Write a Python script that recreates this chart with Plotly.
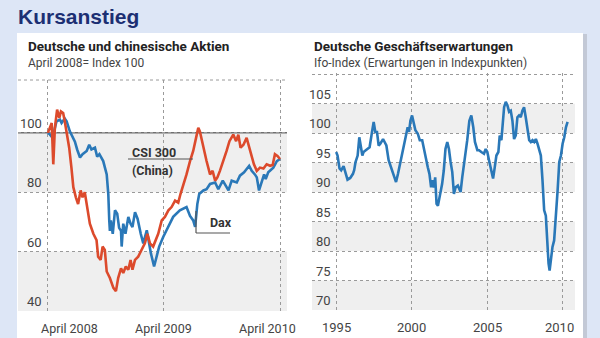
import plotly.graph_objects as go

# ---------------- data ----------------
dax_dates = ["2008-04-01","2008-04-07","2008-04-16","2008-04-28","2008-05-09","2008-05-14","2008-05-24","2008-05-30",
             "2008-06-09","2008-06-25","2008-07-02","2008-07-11","2008-07-19","2008-08-01","2008-08-09","2008-08-16",
             "2008-08-27","2008-09-03","2008-09-10","2008-09-22","2008-10-03","2008-10-08","2008-10-11","2008-10-13",
             "2008-10-16","2008-10-22","2008-10-29","2008-11-05","2008-11-11","2008-11-17","2008-11-19","2008-11-24",
             "2008-12-01","2008-12-10","2008-12-17","2008-12-23","2008-12-31","2009-01-08","2009-01-18","2009-01-26",
             "2009-02-06","2009-02-19","2009-03-01","2009-03-09","2009-03-17","2009-03-30","2009-04-15","2009-04-30",
             "2009-05-21","2009-06-11","2009-06-22","2009-07-02","2009-07-08","2009-07-15","2009-07-21","2009-08-03",
             "2009-08-13","2009-08-24","2009-09-09","2009-09-19","2009-10-03","2009-10-21","2009-10-31","2009-11-16",
             "2009-11-26","2009-12-09","2009-12-25","2010-01-02","2010-01-12","2010-01-18","2010-01-25","2010-02-02",
             "2010-02-10","2010-02-15","2010-02-23","2010-03-11","2010-03-22","2010-04-01"]
dax_values = [100, 99.5, 98.3, 103.9, 104.4, 103.3, 104.8, 103.9, 100.5, 97, 94.4, 91.7, 92.8, 93.9, 96, 94.4,
              95, 92, 92.8, 90.5, 86, 79.4, 70.5, 67, 70.5, 66, 73.9, 72.8, 68, 67, 61.7, 69.4,
              66, 71.7, 69.4, 68.3, 73.3, 71.1, 66, 62.8, 67.2, 59.4, 55, 58.3, 61.7, 65, 68.3, 71.7,
              73.9, 75, 72, 70.5, 68.3, 76, 79.4, 80.6, 81, 82.8, 83.3, 81, 83.9, 80.6, 83.9, 83.3,
              85.6, 86.7, 88.9, 87.2, 86, 85, 80.6, 83.3, 86, 84.4, 86.7, 88.3, 90.5, 91.2]

csi_dates = ["2008-04-01","2008-04-13","2008-04-18","2008-04-23","2008-04-30","2008-05-07","2008-05-12","2008-05-19",
             "2008-05-24","2008-05-30","2008-06-07","2008-06-14","2008-06-20","2008-06-28","2008-07-05","2008-07-13",
             "2008-07-19","2008-07-26","2008-08-01","2008-08-11","2008-08-22","2008-09-01","2008-09-06","2008-09-14",
             "2008-09-20","2008-09-27","2008-10-03","2008-10-13","2008-10-24","2008-11-01","2008-11-08","2008-11-17",
             "2008-11-24","2008-12-02","2008-12-10","2008-12-17","2008-12-23","2008-12-31","2009-01-10","2009-01-21",
             "2009-01-31","2009-02-08","2009-02-16","2009-02-26","2009-03-07","2009-03-14","2009-03-25","2009-04-04",
             "2009-04-15","2009-04-25","2009-05-06","2009-05-16","2009-05-23","2009-06-03","2009-06-11","2009-06-22",
             "2009-07-02","2009-07-11","2009-07-18","2009-07-23","2009-08-03","2009-08-13","2009-08-24","2009-09-01",
             "2009-09-09","2009-09-16","2009-09-24","2009-10-05","2009-10-15","2009-10-24","2009-10-31","2009-11-05",
             "2009-11-14","2009-11-21","2009-11-28","2009-12-07","2009-12-17","2009-12-26","2010-01-02","2010-01-09",
             "2010-01-18","2010-01-28","2010-02-08","2010-02-18","2010-03-01","2010-03-09","2010-03-16","2010-03-24",
             "2010-04-01"]
csi_values = [100, 103.3, 89.4, 101.7, 107.8, 105, 107.2, 106.7, 103.9, 100.5, 95, 88.3, 81.7, 78.3, 76, 80.6,
              78.3, 80, 76, 69.4, 66, 63.9, 58.3, 57.2, 61.7, 60.6, 53.3, 51.1, 47.8, 46.7, 51.1, 54.4,
              52.8, 55, 53.9, 57.2, 53.9, 57.2, 58.3, 60.6, 62.8, 66, 62.8, 61.7, 63.9, 66, 70.5, 71.7,
              73.9, 75, 77.2, 76.5, 79.4, 82.8, 86, 90.5, 93.9, 98.3, 101.7, 100.5, 95, 90.5, 86, 87.2,
              83.9, 85, 87.2, 90.5, 93.9, 97.2, 98.3, 99.4, 97.2, 99.4, 95, 96, 98.3, 95, 92.8, 89.4,
              87.2, 88.3, 88, 89.4, 88.9, 89.2, 92.8, 92.2, 91.2]

ifo_years = [1995.00, 1995.09, 1995.22, 1995.33, 1995.49, 1995.60, 1995.75, 1995.93, 1996.11, 1996.19, 1996.28,
             1996.42, 1996.53, 1996.64, 1996.73, 1996.81, 1996.99, 1997.21, 1997.37, 1997.48, 1997.59, 1997.70,
             1997.81, 1997.92, 1998.10, 1998.21, 1998.32, 1998.47, 1998.69, 1998.85, 1998.96, 1999.09, 1999.25,
             1999.42, 1999.58, 1999.73, 1999.82, 1999.91, 2000.02, 2000.13, 2000.24, 2000.40, 2000.53, 2000.69,
             2000.80, 2000.93, 2001.06, 2001.17, 2001.28, 2001.35, 2001.46, 2001.55, 2001.64, 2001.73, 2001.86,
             2002.01, 2002.12, 2002.23, 2002.35, 2002.46, 2002.57, 2002.68, 2002.79, 2002.90, 2003.05, 2003.23,
             2003.34, 2003.50, 2003.67, 2003.81, 2003.94, 2004.07, 2004.18, 2004.34, 2004.45, 2004.60, 2004.78,
             2004.89, 2005.00, 2005.11, 2005.22, 2005.38, 2005.49, 2005.60, 2005.73, 2005.82, 2005.93, 2006.02,
             2006.11, 2006.22, 2006.33, 2006.44, 2006.55, 2006.66, 2006.77, 2006.88, 2006.99, 2007.10, 2007.21,
             2007.32, 2007.43, 2007.54, 2007.65, 2007.77, 2007.88, 2007.99, 2008.10, 2008.21, 2008.32, 2008.43,
             2008.54, 2008.65, 2008.76, 2008.87, 2008.98, 2009.05, 2009.12, 2009.20, 2009.31, 2009.42, 2009.54,
             2009.65, 2009.76, 2009.87, 2009.98, 2010.09, 2010.20, 2010.31]
ifo_values = [96.8, 96.2, 94, 93.7, 94.4, 93.4, 92.1, 92.4, 93.1, 93.7, 95.1,
              96.2, 99.3, 97.6, 96.2, 96.8, 97.1, 97.6, 100.2, 101.9, 100.2, 100.2,
              97.9, 98.2, 99, 98.5, 97.9, 95.4, 93.7, 92.4, 91.7, 93.1, 95.1,
              97.1, 99.3, 101, 100.2, 102.1, 103, 101.6, 100.5, 99.9, 98.8, 98.8,
              97.3, 95.6, 94.2, 93.1, 90.8, 92, 90.8, 92.5, 88, 87.7, 89.2,
              91.4, 93.7, 97.3, 98.5, 97.3, 95.1, 93.4, 89.7, 90.8, 91.1, 90,
              92.5, 95.4, 98.8, 102.1, 103, 101, 98.5, 97.1, 97.1, 96.8, 96.5,
              97.3, 96.8, 95.4, 94.2, 92.3, 94.2, 96.2, 96.8, 99.6, 98.8, 102.1,
              104.4, 105.3, 104.7, 103.6, 103.8, 102.1, 99, 99.6, 102.7, 103, 102.7,
              103.8, 104.4, 102.7, 101, 98.8, 98.5, 98.8, 98.5, 99, 98.2, 97.3,
              96.2, 92, 86.9, 86, 80.1, 77.9, 76.7, 78.9, 80.7, 81.8, 85.8,
              90.3, 95.1, 96.2, 98.2, 99.3, 101, 101.9]

left_xticks = ["2008-04-01", "2009-04-01", "2010-04-01"]
left_xlabels = ["April 2008", "April 2009", "April 2010"]
left_yticks = [40, 60, 80, 100]
left_bands = [(40, 60), (80, 100)]
right_xticks = [1995, 2000, 2005, 2010]
right_yticks = [70, 75, 80, 85, 90, 95, 100, 105]
right_bands = [(70, 75), (80, 85), (90, 95), (100, 105)]

# ---------------- style ----------------
BG = "#dde6f6"
NAVY = "#1c2f73"
BLUE = "#2a78b8"
RED = "#dc4a2c"
GRID = "#9a9a9a"
BAND = "#efefef"
TXT = "#444444"
NARROW = "Roboto, sans-serif"
W, H = 600, 338

def px(x):
    return x / W

def py(y):
    return (H - y) / H

fig = go.Figure()
fig.add_trace(go.Scatter(x=dax_dates, y=dax_values, mode="lines", line=dict(color=BLUE, width=2.6),
                         xaxis="x", yaxis="y", showlegend=False, hoverinfo="skip"))
fig.add_trace(go.Scatter(x=csi_dates, y=csi_values, mode="lines", line=dict(color=RED, width=2.6),
                         xaxis="x", yaxis="y", showlegend=False, hoverinfo="skip"))
fig.add_trace(go.Scatter(x=ifo_years, y=ifo_values, mode="lines", line=dict(color=BLUE, width=2.6),
                         xaxis="x2", yaxis="y2", showlegend=False, hoverinfo="skip"))

shapes = []
# white card and its shadow
shapes.append(dict(type="rect", xref="paper", yref="paper", x0=px(583), x1=px(587), y0=0, y1=py(34),
                   fillcolor="#c3c9d6", line=dict(width=0), layer="below"))
shapes.append(dict(type="rect", xref="paper", yref="paper", x0=px(17), x1=px(583), y0=0, y1=py(33),
                   fillcolor="white", line=dict(width=0), layer="below"))
for a, b in left_bands:
    shapes.append(dict(type="rect", xref="x domain", yref="y", x0=0, x1=1, y0=a, y1=b,
                       fillcolor=BAND, line=dict(width=0), layer="below"))
for a, b in right_bands:
    shapes.append(dict(type="rect", xref="x2 domain", yref="y2", x0=0, x1=1, y0=a, y1=b,
                       fillcolor=BAND, line=dict(width=0), layer="below"))
# top frame line of left chart
shapes.append(dict(type="line", xref="x domain", yref="y domain", x0=0, x1=1, y0=1, y1=1,
                   line=dict(color=GRID, width=1, dash="dot"), layer="below"))
# solid index-100 line
shapes.append(dict(type="line", xref="x domain", yref="y", x0=0, x1=1, y0=100, y1=100,
                   line=dict(color="#6f6f6f", width=1.5), layer="below"))
# leader lines
shapes.append(dict(type="line", xref="paper", yref="paper", x0=px(128), x1=px(193), y0=py(159), y1=py(159),
                   line=dict(color="#555555", width=1.2), layer="above"))
shapes.append(dict(type="line", xref="paper", yref="paper", x0=px(196), x1=px(196), y0=py(211), y1=py(233),
                   line=dict(color="#555555", width=1.2), layer="above"))
shapes.append(dict(type="line", xref="paper", yref="paper", x0=px(196), x1=px(230), y0=py(233), y1=py(233),
                   line=dict(color="#555555", width=1.2), layer="above"))

ann = []
def text(x, y, s, size, color, xanchor="left", family=NARROW):
    ann.append(dict(x=x, y=y, xref="paper", yref="paper", text=s, showarrow=False, xanchor=xanchor,
                    yanchor="middle", font=dict(family=family, size=size, color=color)))

text(px(16), py(16), "<b>Kursanstieg</b>", 21, NAVY, family="Liberation Sans, Arial, sans-serif")
text(px(26), py(46), "<b>Deutsche und chinesische Aktien</b>", 13.5, "#222222")
text(px(26), py(63), "April 2008= Index 100", 12, TXT)
text(px(312), py(46), "<b>Deutsche Geschäftserwartungen</b>", 13.5, "#222222")
text(px(312), py(63), "Ifo-Index (Erwartungen in Indexpunkten)", 12, TXT)
text(px(130), py(152), "<b>CSI 300</b>", 12.5, "#333333")
text(px(130), py(170), "<b>(China)</b>", 12.5, "#333333")
text(px(208), py(223), "<b>Dax</b>", 12.5, "#333333")

# y tick labels sitting just above their grid lines
for v in left_yticks:
    ann.append(dict(x=0, xref="x domain", y=v, yref="y", text=str(v), showarrow=False, xanchor="right",
                    yanchor="bottom", xshift=26, yshift=0, font=dict(family=NARROW, size=13, color=TXT)))
for v in right_yticks:
    ann.append(dict(x=0, xref="x2 domain", y=v, yref="y2", text=str(v), showarrow=False, xanchor="right",
                    yanchor="bottom", xshift=21, yshift=0, font=dict(family=NARROW, size=13, color=TXT)))
# x tick labels
shift_left = [22, 0, -13]
for t, lab, sh in zip(left_xticks, left_xlabels, shift_left):
    ann.append(dict(x=t, xref="x", y=0, yref="y domain", text=lab, showarrow=False, xanchor="center",
                    yanchor="top", xshift=sh, yshift=-8, font=dict(family=NARROW, size=12.5, color=TXT)))
shift_right = [0, 0, 0, -3]
for t, sh in zip(right_xticks, shift_right):
    ann.append(dict(x=t, xref="x2", y=0, yref="y2 domain", text=str(t), showarrow=False, xanchor="center",
                    yanchor="top", xshift=sh, yshift=-8, font=dict(family=NARROW, size=13, color=TXT)))

axis_common = dict(showline=False, zeroline=False, ticks="", showticklabels=False,
                   showgrid=True, gridcolor=GRID, griddash="dot", gridwidth=1)

fig.update_layout(
    width=W, height=H, margin=dict(l=0, r=0, t=0, b=0),
    paper_bgcolor=BG, plot_bgcolor="rgba(0,0,0,0)",
    xaxis=dict(domain=[px(18), px(287)], type="date", range=["2007-12-29", "2010-04-23"],
               tickvals=left_xticks, **axis_common),
    yaxis=dict(domain=[py(311), py(80)], range=[40, 117.8], tickvals=left_yticks, **axis_common),
    xaxis2=dict(domain=[px(312), px(575)], range=[1993.4, 2010.8], tickvals=right_xticks,
                anchor="y2", **axis_common),
    yaxis2=dict(domain=[py(310), py(73)], range=[70, 110.2], anchor="x2",
                tickvals=right_yticks + [110], **axis_common),
    shapes=shapes, annotations=ann,
)

fig.write_html("out.html")
